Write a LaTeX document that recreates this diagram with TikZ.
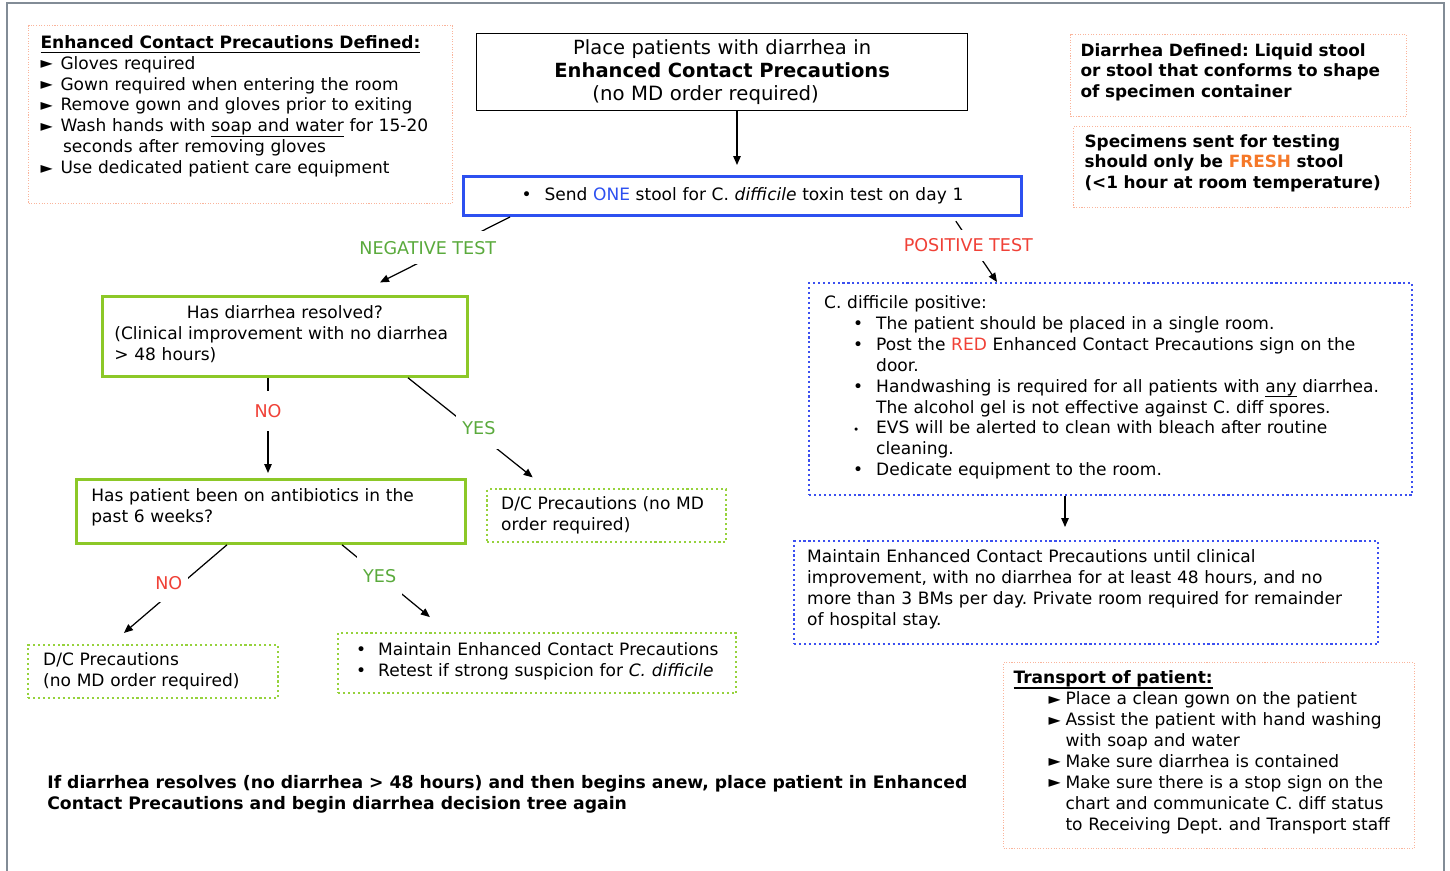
\documentclass[tikz,border=0pt]{standalone}
\usepackage{fontspec}
\setmainfont{DejaVu Sans}
\usetikzlibrary{arrows.meta,positioning,calc}
\frenchspacing
\definecolor{frameCol}{RGB}{130,140,150}
\definecolor{noteCol}{RGB}{250,180,155}
\definecolor{qCol}{RGB}{140,200,40}
\definecolor{dcCol}{RGB}{150,210,60}
\definecolor{sendCol}{RGB}{45,80,240}
\definecolor{posCol}{RGB}{60,80,240}
\definecolor{yesCol}{RGB}{90,170,60}
\definecolor{noCol}{RGB}{240,65,55}
\definecolor{freshCol}{RGB}{245,120,40}
\newcommand{\bodyfont}{\fontsize{9.7}{11.9}\selectfont}
\newcommand{\boldfont}{\fontsize{9.6}{11.9}\selectfont\bfseries}
\newcommand{\tri}[1][0.4cm]{\makebox[#1][l]{\raisebox{0.01cm}{\fontsize{9}{9}\selectfont ►}}}
\newcommand{\dotb}[1][0.46cm]{\makebox[#1][l]{•}}
\newcommand{\padb}[1]{\rule[-#1]{0pt}{#1}}
% underline kept close to the text
\newcommand{\undl}[2][0.45pt]{{\setbox0\hbox{#2}\rlap{\rule[-0.1cm]{\wd0}{#1}}\box0}}
\tikzset{
  box/.style={anchor=north west,align=left,inner ysep=0pt,font=\bodyfont,
              execute at begin node={\hyphenpenalty=10000\frenchspacing}},
  infobox/.style={box,draw=noteCol,line width=0.6pt,dash pattern=on 0.6pt off 0.9pt},
  qbox/.style={box,draw=qCol,line width=1.6pt},
  dcbox/.style={box,draw=dcCol,line width=1.4pt,dash pattern=on 1.2pt off 1.6pt},
  posbox/.style={box,draw=posCol,line width=1.4pt,dash pattern=on 1.2pt off 1.6pt},
  flow/.style={-{Triangle[length=1.8mm,width=1.5mm]},line width=0.7pt},
  lab/.style={fill=white,font=\fontsize{10}{11}\selectfont,inner xsep=0.12cm},
}

\begin{document}
\begin{tikzpicture}[x=0.02cm,y=-0.02cm]
  \useasboundingbox (0,0) rectangle (1450,871);
  \draw[frameCol,line width=0.9pt] (7,871) -- (7,3) -- (1444,3) -- (1444,871);

  % notes along the top
  \node[infobox,minimum width=8.48cm,minimum height=3.56cm,inner xsep=0.24cm,text width=8.0cm] (ecp) at (28,25)
    {\undl[1pt]{\textbf{Enhanced Contact Precautions Defined:}}\\
     \tri Gloves required\\
     \tri Gown required when entering the room\\
     \tri Remove gown and gloves prior to exiting\\
     \tri Wash hands with \undl{soap and water} for 15-20\\
     \hspace*{0.45cm}seconds after removing gloves\\
     \tri Use dedicated patient care equipment\padb{0.4cm}};
  \node[infobox,font=\boldfont,minimum width=6.72cm,minimum height=1.64cm,inner xsep=0.2cm,text width=6.32cm] (dd) at (1070,34)
    {Diarrhea Defined: Liquid stool\\ or stool that conforms to shape\\ of specimen container\padb{0.2cm}};
  \node[infobox,font=\boldfont,minimum width=6.74cm,minimum height=1.62cm,inner xsep=0.22cm,text width=6.3cm] (spec) at (1073,126)
    {Specimens sent for testing\\ should only be \textcolor{freshCol}{FRESH} stool\\ (<1 hour at room temperature)\padb{0.22cm}};

  % main flow
  \node[box,draw=black,line width=0.8pt,align=center,font=\fontsize{11.1}{13}\selectfont,
        minimum width=9.82cm,minimum height=1.54cm,text width=9.5cm] (top) at (476,33)
    {\rule{0pt}{0.3cm}Place patients with diarrhea in\\ \textbf{Enhanced Contact Precautions}\\
     \mbox{\fontsize{11.2}{13}\selectfont (no MD order required)\hspace{0.66cm}}};
  \node[box,draw=sendCol,line width=1.7pt,align=center,minimum width=11.16cm,minimum height=0.78cm,text width=10.8cm] (send) at (462,175)
    {\dotb Send \textcolor{sendCol}{ONE} stool for C. \textit{difficile} toxin test on day 1};

  \node[qbox,minimum width=7.3cm,minimum height=1.6cm,inner xsep=0.24cm,text width=6.82cm] (q1) at (101,295)
    {\makebox[\linewidth]{Has diarrhea resolved?}\\ (Clinical improvement with no diarrhea\\ > 48 hours)\padb{0.14cm}};
  \node[dcbox,minimum width=4.78cm,minimum height=1.06cm,inner xsep=0.28cm,text width=4.22cm] (dc1) at (486,488)
    {D/C Precautions (no MD\\ order required)};
  \node[qbox,minimum width=7.78cm,minimum height=1.28cm,inner xsep=0.3cm,text width=7.18cm] (q2) at (75,478)
    {Has patient been on antibiotics in the\\ past 6 weeks?\padb{0.24cm}};
  \node[dcbox,minimum width=5cm,minimum height=1.06cm,inner xsep=0.3cm,text width=4.4cm] (dc2) at (27,644)
    {D/C Precautions\\ (no MD order required)};
  \node[dcbox,minimum width=7.96cm,minimum height=1.2cm,inner xsep=0.2cm,text width=7.56cm] (keep) at (337,632)
    {\hspace*{0.16cm}\dotb[0.44cm]Maintain Enhanced Contact Precautions\\
     \hspace*{0.16cm}\dotb[0.44cm]Retest if strong suspicion for \textit{C. difficile}\padb{0.14cm}};

  \node[posbox,minimum width=12.06cm,minimum height=4.24cm,inner xsep=0.3cm,text width=11.46cm] (pos) at (808,282)
    {C. difficile positive:\\
     \hspace*{0.58cm}\dotb The patient should be placed in a single room.\\
     \hspace*{0.58cm}\dotb Post the \textcolor{noCol}{RED} Enhanced Contact Precautions sign on the\\
     \hspace*{1.04cm}door.\\
     \hspace*{0.58cm}\dotb Handwashing is required for all patients with \undl{any} diarrhea.\\
     \hspace*{1.04cm}The alcohol gel is not effective against C. diff spores.\\
     \hspace*{0.58cm}\makebox[0.46cm][l]{\fontsize{6}{6}\selectfont •}EVS will be alerted to clean with bleach after routine\\
     \hspace*{1.04cm}cleaning.\\
     \hspace*{0.58cm}\dotb Dedicate equipment to the room.\padb{0.14cm}};
  \node[posbox,minimum width=11.68cm,minimum height=2.06cm,inner xsep=0.26cm,text width=11.16cm] (keep2) at (793,540)
    {Maintain Enhanced Contact Precautions until clinical\\
     improvement, with no diarrhea for at least 48 hours, and no\\
     more than 3 BMs per day. Private room required for remainder\\
     of hospital stay.\padb{0.2cm}};
  \node[infobox,minimum width=8.22cm,minimum height=3.72cm,inner xsep=0.2cm,text width=7.82cm] (trans) at (1003,662)
    {\undl[1pt]{\textbf{Transport of patient:}}\\
     \hspace*{0.7cm}\tri[0.34cm]Place a clean gown on the patient\\
     \hspace*{0.7cm}\tri[0.34cm]Assist the patient with hand washing\\
     \hspace*{1.04cm}with soap and water\\
     \hspace*{0.7cm}\tri[0.34cm]Make sure diarrhea is contained\\
     \hspace*{0.7cm}\tri[0.34cm]Make sure there is a stop sign on the\\
     \hspace*{1.04cm}chart and communicate C. diff status\\
     \hspace*{1.04cm}to Receiving Dept. and Transport staff\padb{0.2cm}};

  \node[anchor=north west,align=left,inner sep=0pt,font=\fontsize{9.8}{11.9}\selectfont\bfseries] (redo) at (47,775)
    {If diarrhea resolves (no diarrhea > 48 hours) and then begins anew, place patient in Enhanced\\
     Contact Precautions and begin diarrhea decision tree again};

  % connectors
  \draw[flow,shorten >=0.2cm] (top.south -| 737,0) -- (send.north -| 737,0);
  \draw[flow,shorten >=0.56cm] (send.south -| 510,0) -- node[lab,pos=0.395,xshift=-0.42cm,inner ysep=0.2cm,text=yesCol] {NEGATIVE TEST} (q1.north -| 355,0);
  \draw[flow,shorten <=0.1cm] (send.south -| 953,0) -- node[lab,pos=0.44,xshift=-0.08cm,inner ysep=0.18cm,text=noCol] {POSITIVE TEST} (pos.north -| 997,0);
  \draw[flow,shorten >=0.1cm] (q1.south -| 268,0) -- node[lab,pos=0.33,inner ysep=0.26cm,text=noCol] {NO} (q2.north -| 268,0);
  \draw[flow,shorten >=0.34cm] (q1.south -| 408,0) -- node[lab,pos=0.46,xshift=0.15cm,inner ysep=0.28cm,text=yesCol] {YES} (dc1.north -| 546,0);
  \draw[flow,shorten >=0.34cm] (q2.south -| 227,0) -- node[lab,pos=0.39,xshift=-0.26cm,inner ysep=0.24cm,text=noCol] {NO} (dc2.north -| 111,0);
  \draw[flow,shorten >=0.47cm] (q2.south -| 342,0) -- node[lab,pos=0.356,inner ysep=0.26cm,text=yesCol] {YES} (keep.north -| 448,0);
  \draw[flow,shorten >=0.26cm] (pos.south -| 1065,0) -- (keep2.north -| 1065,0);
\end{tikzpicture}
\end{document}
